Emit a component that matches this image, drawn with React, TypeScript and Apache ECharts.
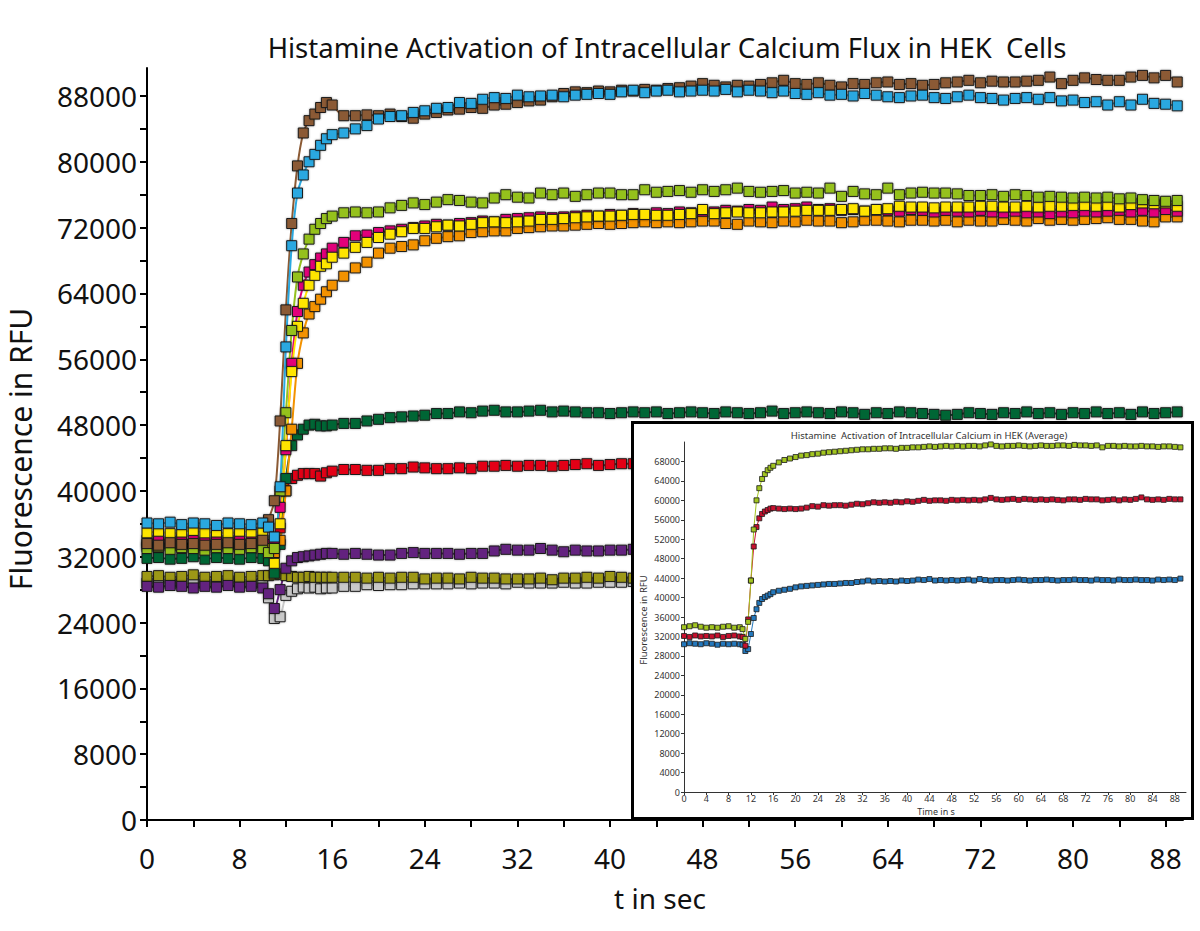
import React, { useEffect, useRef } from "react";
import * as echarts from "echarts";

// time grid (s)
const T = [
  0, 1, 2, 3, 4, 5, 6, 7, 8, 9, 10,
  10.5, 11, 11.5, 12, 12.5, 13, 13.5, 14, 14.5, 15, 15.5,
  16, 17, 18, 19, 20, 21, 22, 23, 24, 25,
  26, 27, 28, 29, 30, 31, 32, 33, 34, 35,
  36, 37, 38, 39, 40, 41, 42, 43, 44, 45,
  46, 47, 48, 49, 50, 51, 52, 53, 54, 55,
  56, 57, 58, 59, 60, 61, 62, 63, 64, 65,
  66, 67, 68, 69, 70, 71, 72, 73, 74, 75,
  76, 77, 78, 79, 80, 81, 82, 83, 84, 85,
  86, 87, 88, 89,
];

// main chart values, in thousands of RFU
const CYAN = [
  36.1, 36.0, 36.2, 35.9, 36.1, 36.0, 35.8, 36.1, 36.0, 35.9, 36.1,
  35.6, 34.4, 40.5, 57.5, 69.8, 76.2, 78.4, 80.0, 80.9, 82.0, 82.8,
  83.3, 83.5, 84.0, 84.4, 85.2, 85.5, 85.6, 86.0, 86.2, 86.5,
  86.6, 87.2, 87.1, 87.6, 87.8, 87.7, 88.1, 87.9, 88.0, 88.1,
  87.9, 88.1, 88.2, 88.3, 88.2, 88.5, 88.7, 88.4, 88.6, 88.7,
  88.5, 88.6, 88.7, 88.6, 88.8, 88.5, 88.7, 88.6, 88.4, 88.6,
  88.3, 88.2, 88.4, 88.1, 88.2, 88.0, 88.3, 88.1, 87.9, 87.8,
  88.0, 88.1, 87.8, 87.7, 87.9, 88.1, 87.8, 87.7, 87.5, 87.7,
  87.8, 87.6, 87.8, 87.4, 87.5, 87.2, 87.3, 86.9, 87.3, 86.9,
  87.6, 87.1, 87.0, 86.8,
];
const BROWN = [
  33.6, 33.4, 33.7, 33.5, 33.6, 33.4, 33.5, 33.7, 33.5, 33.6, 34.0,
  36.5, 38.8, 48.5, 62.0, 72.5, 79.5, 83.5, 85.0, 85.8, 86.6, 87.2,
  86.9, 85.6, 85.6, 85.7, 85.6, 85.8, 85.5, 85.3, 85.8, 86.0,
  86.3, 86.4, 86.6, 86.5, 86.9, 87.0, 87.2, 87.4, 87.5, 87.9,
  88.3, 88.5, 88.4, 88.6, 88.5, 88.7, 88.6, 88.8, 88.7, 88.9,
  89.0, 89.2, 89.5, 89.3, 89.1, 89.3, 89.2, 89.4, 89.6, 89.9,
  89.5, 89.4, 89.6, 89.3, 89.1, 89.5, 89.4, 89.6, 89.7, 89.4,
  89.5, 89.3, 89.4, 89.6, 89.7, 89.9, 89.6, 89.8, 89.7, 89.7,
  89.8, 89.9, 90.3, 89.5, 89.9, 90.2, 90.0, 89.9, 89.9, 90.3,
  90.5, 90.2, 90.5, 89.7,
];
const LIME = [
  33.0, 33.2, 32.9, 33.1, 33.0, 32.8, 33.1, 33.0, 32.9, 33.1, 33.0,
  32.5, 33.0, 40.0, 49.5, 59.5, 66.0, 68.8, 70.6, 71.8, 72.5, 73.1,
  73.4, 73.8, 73.9, 73.8, 73.9, 74.4, 74.7, 75.0, 74.8, 75.1,
  75.4, 75.3, 75.1, 75.0, 75.6, 76.0, 75.7, 75.6, 76.2, 76.0,
  76.2, 75.8, 76.0, 76.2, 76.2, 76.0, 76.0, 76.6, 76.3, 76.4,
  76.5, 76.3, 76.6, 76.4, 76.6, 76.8, 76.4, 76.3, 76.4, 76.5,
  76.2, 76.3, 76.2, 76.8, 75.8, 76.4, 76.1, 76.0, 76.8, 76.0,
  76.2, 76.3, 76.2, 76.2, 76.1, 75.9, 75.9, 76.0, 75.8, 76.0,
  75.9, 75.7, 75.8, 75.7, 75.6, 75.7, 75.6, 75.7, 75.5, 75.6,
  75.4, 75.3, 75.2, 75.3,
];
const MAGENTA = [
  34.0, 34.2, 33.9, 34.1, 34.0, 33.8, 34.1, 34.0, 34.2, 33.9, 34.0,
  33.5, 34.0, 38.0, 45.0, 55.5, 61.8, 65.0, 66.6, 67.5, 68.3, 68.8,
  69.5, 70.2, 71.0, 71.1, 71.4, 71.6, 71.8, 72.0, 72.2, 72.4,
  72.3, 72.5, 72.6, 72.8, 72.7, 73.0, 73.1, 73.2, 73.3, 73.2,
  73.3, 73.4, 73.5, 73.4, 73.6, 73.5, 73.7, 73.6, 73.8, 73.7,
  73.9, 73.8, 74.0, 73.9, 74.1, 74.0, 74.2, 74.1, 74.5, 74.2,
  74.3, 74.5, 74.2, 74.3, 74.1, 74.2, 74.0, 74.2, 74.1, 74.0,
  74.2, 74.1, 73.9, 74.1, 74.0, 73.9, 74.1, 73.9, 73.8, 74.0,
  73.8, 73.9, 73.7, 73.9, 73.8, 74.0, 73.9, 74.0, 74.1, 73.9,
  74.1, 73.9, 74.2, 74.0,
];
const YELLOW = [
  34.9, 35.1, 34.8, 35.0, 35.2, 34.9, 35.0, 34.8, 35.1, 35.0, 34.9,
  33.0, 31.2, 36.0, 45.5, 54.5, 60.0, 62.8, 65.0, 66.2, 67.3, 67.6,
  68.4, 68.9, 69.6, 70.2, 70.8, 71.2, 71.5, 71.9, 71.9, 72.1,
  72.3, 72.2, 72.4, 72.6, 72.7, 72.6, 72.7, 72.8, 73.0, 73.0,
  73.1, 73.2, 73.3, 73.4, 73.4, 73.5, 73.6, 73.6, 73.5, 73.5,
  73.6, 73.7, 74.2, 73.7, 73.8, 73.9, 73.8, 73.8, 73.9, 73.9,
  74.0, 74.1, 74.1, 74.1, 74.2, 74.3, 74.0, 74.2, 74.3, 74.6,
  74.5, 74.5, 74.4, 74.5, 74.5, 74.5, 74.6, 74.6, 74.5, 74.5,
  74.6, 74.5, 74.6, 74.6, 74.7, 74.7, 74.6, 74.7, 74.5, 74.8,
  75.0, 74.9, 75.0, 74.6,
];
const ORANGE = [
  33.5, 33.3, 33.6, 33.4, 33.5, 33.7, 33.4, 33.5, 33.3, 33.6, 33.5,
  33.0, 32.5, 34.0, 40.0, 47.5, 55.5, 59.2, 61.5, 62.4, 63.3, 64.2,
  65.0, 66.1, 67.1, 67.8, 68.9, 69.5, 69.7, 69.9, 70.4, 70.7,
  70.9, 71.0, 71.4, 71.5, 71.6, 71.6, 71.9, 72.0, 72.1, 72.2,
  72.2, 72.3, 72.4, 72.5, 72.4, 72.5, 72.6, 72.7, 72.6, 72.7,
  72.6, 72.7, 72.8, 72.8, 72.5, 72.4, 72.8, 72.7, 72.6, 72.8,
  72.7, 72.9, 72.8, 72.8, 72.6, 72.7, 72.9, 72.9, 72.8, 72.7,
  72.9, 72.9, 72.8, 72.9, 72.7, 72.9, 72.8, 72.8, 73.0, 72.9,
  72.8, 73.1, 72.9, 73.0, 72.9, 73.0, 73.1, 73.2, 73.0, 73.0,
  72.8, 72.7, 73.3, 73.3,
];
const DKGREEN = [
  31.8, 31.9, 31.7, 31.8, 32.0, 31.7, 31.9, 31.8, 31.7, 31.9, 31.8,
  31.5, 30.0, 33.5, 41.5, 45.5, 46.8, 47.5, 48.0, 48.1, 47.9, 47.9,
  48.0, 48.2, 48.2, 48.5, 48.7, 48.9, 49.0, 49.1, 49.2, 49.4,
  49.4, 49.6, 49.5, 49.7, 49.8, 49.6, 49.6, 49.7, 49.8, 49.6,
  49.7, 49.6, 49.5, 49.5, 49.4, 49.5, 49.6, 49.5, 49.6, 49.4,
  49.5, 49.6, 49.5, 49.4, 49.6, 49.5, 49.4, 49.5, 49.7, 49.4,
  49.5, 49.6, 49.5, 49.4, 49.6, 49.5, 49.3, 49.5, 49.4, 49.6,
  49.5, 49.4, 49.3, 49.2, 49.3, 49.5, 49.4, 49.3, 49.5, 49.4,
  49.6, 49.4, 49.5, 49.3, 49.5, 49.4, 49.6, 49.4, 49.5, 49.3,
  49.6, 49.4, 49.5, 49.6,
];
// these four run on underneath the inset; only their visible part (to 43 s) is kept
const RED = [
  33.2, 33.0, 33.3, 33.1, 33.2, 33.0, 33.4, 33.1, 33.2, 33.0, 33.2,
  33.0, 32.5, 35.5, 40.0, 41.5, 41.9, 42.1, 42.1, 42.1, 41.8, 42.2,
  42.4, 42.6, 42.6, 42.5, 42.5, 42.7, 42.7, 42.9, 42.8, 42.7,
  42.7, 42.8, 42.7, 43.0, 43.0, 43.1, 43.0, 43.1, 43.1, 43.0,
  43.1, 43.2, 43.3, 43.1, 43.2, 43.3, 43.3, 43.2,
];
const PURPLE = [
  28.4, 28.3, 28.5, 28.4, 28.2, 28.4, 28.3, 28.5, 28.3, 28.4, 28.2,
  27.5, 25.7, 28.0, 30.6, 31.5, 31.9, 32.0, 32.1, 32.2, 32.3, 32.4,
  32.4, 32.3, 32.4, 32.3, 32.2, 32.2, 32.4, 32.5, 32.4, 32.4,
  32.4, 32.3, 32.4, 32.4, 32.7, 32.9, 32.8, 32.8, 33.0, 32.8,
  32.6, 32.8, 32.7, 32.7, 32.8, 32.8, 32.9, 32.8,
];
const OLIVE = [
  29.6, 29.7, 29.5, 29.6, 29.8, 29.5, 29.6, 29.7, 29.5, 29.6, 29.7,
  29.7, 29.8, 29.9, 29.7, 29.6, 29.5, 29.5, 29.6, 29.5, 29.5, 29.5,
  29.5, 29.5, 29.5, 29.4, 29.5, 29.4, 29.5, 29.5, 29.3, 29.4,
  29.4, 29.3, 29.5, 29.4, 29.4, 29.3, 29.3, 29.3, 29.4, 29.2,
  29.4, 29.4, 29.5, 29.4, 29.6, 29.5, 29.4, 29.5,
];
const GRAY = [
  28.8, 28.9, 28.7, 28.8, 28.9, 28.7, 28.8, 28.9, 28.8, 28.7, 28.8,
  27.0, 24.5, 24.7, 27.3, 27.8, 28.1, 28.3, 28.2, 28.3, 28.1, 28.2,
  28.2, 28.4, 28.4, 28.6, 28.5, 28.6, 28.6, 28.7, 28.7, 28.7,
  28.7, 28.8, 28.7, 28.8, 28.8, 28.7, 28.9, 28.8, 28.8, 28.8,
  28.9, 28.8, 28.8, 28.9, 28.9, 28.9, 29.0, 28.9,
];

// inset (average) values, in thousands of RFU
const AVG_LIME = [
  33.9, 34.1, 34.3, 34.0, 33.8, 33.9, 33.8, 34.0, 34.1, 33.8, 33.9,
  33.5, 31.5, 35.0, 43.5, 54.0, 60.0, 62.5, 64.4, 65.4, 66.2, 66.7,
  67.1, 67.8, 68.3, 68.6, 68.9, 69.2, 69.3, 69.5, 69.6, 69.8,
  69.9, 70.0, 70.1, 70.2, 70.3, 70.4, 70.5, 70.5, 70.6, 70.6,
  70.7, 70.7, 70.6, 70.8, 70.8, 70.9, 70.9, 71.0, 71.1, 71.0,
  71.1, 71.2, 71.1, 71.2, 71.1, 71.2, 71.2, 71.1, 71.3, 71.5,
  71.2, 71.1, 71.2, 71.2, 71.3, 71.2, 71.1, 71.2, 71.3, 71.2,
  71.2, 71.3, 71.3, 71.2, 71.4, 71.3, 71.3, 71.2, 71.3, 70.9,
  71.2, 71.2, 71.1, 71.2, 71.1, 71.1, 71.2, 71.1, 71.1, 71.0,
  71.1, 71.1, 71.0, 70.9,
];
const AVG_RED = [
  32.1, 31.9, 32.2, 32.0, 32.1, 32.0, 32.2, 31.9, 32.1, 32.2, 32.0,
  31.9, 30.1, 35.5, 43.5, 50.5, 54.5, 56.3, 57.2, 57.7, 58.0, 58.3,
  58.4, 58.3, 58.2, 58.3, 58.2, 58.3, 58.5, 58.8, 58.7, 59.0,
  58.9, 59.0, 59.0, 58.9, 59.1, 59.3, 59.2, 59.4, 59.6, 59.5,
  59.6, 59.5, 59.7, 59.6, 59.8, 59.7, 59.9, 60.1, 59.9, 60.0,
  60.0, 59.9, 60.1, 60.0, 60.1, 60.0, 60.1, 60.0, 60.2, 60.5,
  60.2, 60.1, 60.2, 60.3, 60.1, 60.3, 60.2, 60.1, 60.2, 60.1,
  60.2, 60.1, 60.0, 60.2, 60.2, 60.1, 60.3, 60.2, 60.2, 60.0,
  60.1, 60.2, 60.0, 60.2, 60.1, 60.3, 60.6, 60.2, 60.1, 60.2,
  60.1, 60.3, 60.2, 60.2,
];
const AVG_BLUE = [
  30.4, 30.6, 30.5, 30.4, 30.6, 30.5, 30.3, 30.5, 30.4, 30.5, 30.4,
  30.3, 29.0, 29.4, 32.5, 35.8, 37.6, 38.9, 39.7, 40.1, 40.4, 40.7,
  41.1, 41.4, 41.6, 41.8, 42.1, 42.3, 42.4, 42.5, 42.6, 42.7,
  42.8, 42.8, 42.9, 43.0, 43.0, 43.2, 43.3, 43.5, 43.3, 43.4,
  43.3, 43.4, 43.3, 43.5, 43.4, 43.5, 43.7, 43.6, 43.8, 43.5,
  43.6, 43.5, 43.6, 43.5, 43.6, 43.7, 43.5, 43.8, 43.6, 43.5,
  43.6, 43.6, 43.5, 43.6, 43.7, 43.6, 43.5, 43.6, 43.6, 43.7,
  43.6, 43.5, 43.6, 43.6, 43.7, 43.6, 43.6, 43.5, 43.7, 43.6,
  43.6, 43.5, 43.7, 43.6, 43.6, 43.7, 43.6, 43.6, 43.5, 43.7,
  43.6, 43.7, 43.6, 43.9,
];

// tick positions / labels
const X_TICKS = [0, 4, 8, 12, 16, 20, 24, 28, 32, 36, 40, 44, 48, 52, 56, 60, 64, 68, 72, 76, 80, 84, 88];
const X_LABELS = [0, 8, 16, 24, 32, 40, 48, 56, 64, 72, 80, 88];
const Y_TICKS = [0, 4000, 8000, 12000, 16000, 20000, 24000, 28000, 32000, 36000, 40000, 44000, 48000,
  52000, 56000, 60000, 64000, 68000, 72000, 76000, 80000, 84000, 88000];
const Y_LABELS = [0, 8000, 16000, 24000, 32000, 40000, 48000, 56000, 64000, 72000, 80000, 88000];
const IN_X_LABELS = [0, 4, 8, 12, 16, 20, 24, 28, 32, 36, 40, 44, 48, 52, 56, 60, 64, 68, 72, 76, 80, 84, 88];
const IN_Y_LABELS = [0, 4000, 8000, 12000, 16000, 20000, 24000, 28000, 32000, 36000, 40000, 44000, 48000,
  52000, 56000, 60000, 64000, 68000];

const TITLE = "Histamine Activation of Intracellular Calcium Flux in HEK  Cells";
const INSET_TITLE = "Histamine  Activation of Intracellular Calcium in HEK (Average)";

const MAIN_SERIES = [
  { name: "Gray", color: "#c9c9c9", values: GRAY },
  { name: "Olive", color: "#9d9817", values: OLIVE },
  { name: "Purple", color: "#64247f", values: PURPLE },
  { name: "Red", color: "#e30613", values: RED },
  { name: "Dark green", color: "#006634", values: DKGREEN },
  { name: "Orange", color: "#f39200", values: ORANGE },
  { name: "Magenta", color: "#e2007a", values: MAGENTA },
  { name: "Yellow", color: "#ffe500", values: YELLOW },
  { name: "Lime", color: "#95c11f", values: LIME },
  { name: "Brown", color: "#8b5a34", values: BROWN },
  { name: "Cyan", color: "#2aa8e0", values: CYAN },
];
const INSET_SERIES = [
  { name: "Blue", color: "#2378bd", values: AVG_BLUE },
  { name: "Red", color: "#c8102e", values: AVG_RED },
  { name: "Lime", color: "#a2c520", values: AVG_LIME },
];

const FONT = "'Noto Sans', 'DejaVu Sans', sans-serif";
const plain = (v: number) => String(v);

const toData = (vals: number[]) => vals.map((v, i) => [T[i], Math.round(v * 1000)]);

function textEl(text: string, x: number, y: number, size: number, rotation = 0, color = "#111") {
  return {
    type: "text",
    x,
    y,
    rotation,
    silent: true,
    style: {
      text,
      fill: color,
      font: `${size}px ${FONT}`,
      align: "center",
      verticalAlign: "middle",
      textAlign: "center",
      textVerticalAlign: "middle",
    },
  };
}

const mainOption = {
  animation: false,
  backgroundColor: "#fff",
  grid: { left: 147, right: 17, top: 68, bottom: 111 },
  xAxis: {
    type: "value",
    min: 0,
    max: 89.5,
    axisLine: { show: true, onZero: false, lineStyle: { color: "#000", width: 2 } },
    axisTick: { show: true, customValues: X_TICKS, length: 7, lineStyle: { color: "#000", width: 2 } },
    axisLabel: { customValues: X_LABELS, formatter: plain, margin: 24, fontFamily: FONT, fontSize: 28, color: "#111" },
    splitLine: { show: false },
  },
  yAxis: {
    type: "value",
    min: 0,
    max: 91400,
    axisLine: { show: true, lineStyle: { color: "#000", width: 2 } },
    axisTick: { show: true, customValues: Y_TICKS, length: 7, lineStyle: { color: "#000", width: 2 } },
    axisLabel: { customValues: Y_LABELS, formatter: plain, margin: 10, fontFamily: FONT, fontSize: 28, color: "#111" },
    splitLine: { show: false },
  },
  graphic: [
    textEl(TITLE, 667, 47, 27.5),
    textEl("t in sec", 660, 898, 28),
    textEl("Fluorescence in RFU", 20, 449, 30, Math.PI / 2),
  ],
  series: MAIN_SERIES.map((s) => ({
    name: s.name,
    type: "line",
    data: toData(s.values),
    smooth: 0.3,
    showAllSymbol: true,
    symbol: "rect",
    symbolSize: 10,
    lineStyle: { color: s.color, width: 2 },
    itemStyle: {
      color: s.color,
      borderColor: "#1a1a1a",
      borderWidth: 1,
      shadowBlur: 2,
      shadowColor: "rgba(0,0,0,0.35)",
    },
    emphasis: { disabled: true },
  })),
};

const insetOption = {
  animation: false,
  backgroundColor: "#fff",
  grid: { left: 50, right: 5, top: 18, bottom: 25 },
  xAxis: {
    type: "value",
    min: 0,
    max: 90,
    axisLine: { show: true, onZero: false, lineStyle: { color: "#333", width: 1 } },
    axisTick: { show: true, customValues: IN_X_LABELS, length: 3, lineStyle: { color: "#333", width: 1 } },
    axisLabel: { customValues: IN_X_LABELS, formatter: plain, margin: 2, fontFamily: FONT, fontSize: 9, color: "#333" },
    splitLine: { show: false },
  },
  yAxis: {
    type: "value",
    min: 0,
    max: 72000,
    axisLine: { show: true, lineStyle: { color: "#333", width: 1 } },
    axisTick: { show: true, customValues: IN_Y_LABELS, length: 3, lineStyle: { color: "#333", width: 1 } },
    axisLabel: { customValues: IN_Y_LABELS, formatter: plain, margin: 4, fontFamily: FONT, fontSize: 9, color: "#333" },
    splitLine: { show: false },
  },
  graphic: [
    textEl(INSET_TITLE, 295, 11, 9.5, 0, "#333"),
    textEl("Time in s", 302, 387.5, 9, 0, "#333"),
    textEl("Fluorescence in RFU", 9, 196, 9.5, Math.PI / 2, "#333"),
  ],
  series: INSET_SERIES.map((s) => ({
    name: s.name,
    type: "line",
    data: toData(s.values),
    showAllSymbol: true,
    symbol: "rect",
    symbolSize: 5,
    lineStyle: { color: s.color, width: 1 },
    itemStyle: { color: s.color, borderColor: "#1a1a1a", borderWidth: 0.8 },
    emphasis: { disabled: true },
  })),
};

export default function App() {
  const mainRef = useRef<HTMLDivElement>(null);
  const insetRef = useRef<HTMLDivElement>(null);

  useEffect(() => {
    const main = echarts.init(mainRef.current as HTMLDivElement, null, { renderer: "svg" });
    const inset = echarts.init(insetRef.current as HTMLDivElement, null, { renderer: "svg" });
    main.setOption(mainOption as any);
    inset.setOption(insetOption as any);
    return () => {
      main.dispose();
      inset.dispose();
    };
  }, []);

  return (
    <div style={{ position: "absolute", left: 0, top: 0, width: 1200, height: 931, background: "#fff", overflow: "hidden" }}>
      <div ref={mainRef} style={{ position: "absolute", left: 0, top: 0, width: 1200, height: 931 }} />
      <div
        style={{
          position: "absolute",
          left: 631,
          top: 421,
          width: 563,
          height: 399,
          boxSizing: "border-box",
          border: "3px solid #000",
          background: "#fff",
        }}
      >
        <div ref={insetRef} style={{ width: 557, height: 393 }} />
      </div>
    </div>
  );
}
